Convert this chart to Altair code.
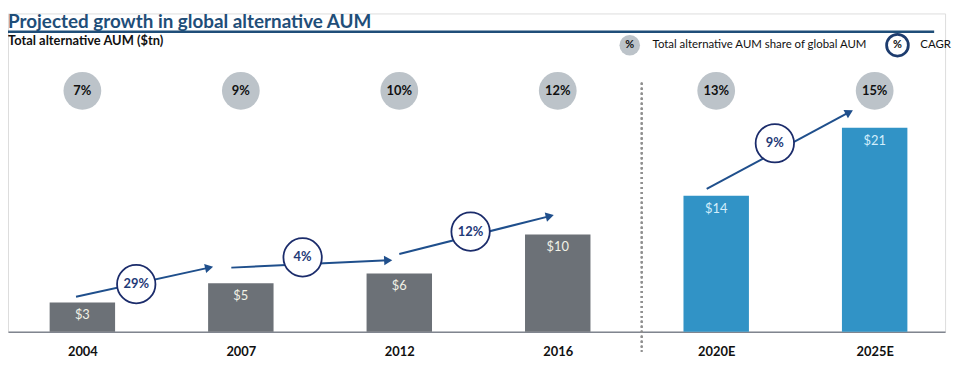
import math
import altair as alt
import pandas as pd

# ---------------- data ----------------
years = ["2004", "2007", "2012", "2016", "2020E", "2025E"]
aum_tn = [3, 5, 6, 10, 14, 21]
share_pct = [7, 9, 10, 12, 13, 15]
phase = ["Historical", "Historical", "Historical", "Historical", "Projected", "Projected"]
cagr_pct = [29, 4, 12, 9]

# ---------------- layout (positions in axis units: bar index, $tn) ----------------
arrow_x1 = [-0.04, 0.94, 2.00, 3.94]
arrow_y1 = [3.6, 6.6, 8.0, 14.7]
arrow_x2 = [0.80, 1.93, 2.95, 4.84]
arrow_y2 = [6.6, 7.35, 11.9, 22.6]
cagr_cx = [0.34, 1.39, 2.45, 4.37]
cagr_cy = [4.9, 7.65, 10.3, 19.4]

W, H = 945, 321
STEP = 159.8          # px per bar index
PXU = 9.8             # px per $tn
XMIN = -75 / STEP
XMAX = XMIN + W / STEP
YMAX = H / PXU

FONT = "Lato"
GREY_BAR = "#6c7177"
BLUE_BAR = "#3193c6"
NAVY = "#1b2c6b"
ARROW = "#1f4f8c"
TITLE_BLUE = "#1f4e79"

xs = alt.Scale(domain=[XMIN, XMAX], nice=False, zero=False, padding=0)
ys = alt.Scale(domain=[0, YMAX], nice=False, zero=False, padding=0)

label_expr = "[" + ",".join("'%s'" % y for y in years) + "][datum.value]"

bars_df = pd.DataFrame({
    "idx": list(range(len(years))),
    "year": years,
    "aum": aum_tn,
    "share": share_pct,
    "phase": phase,
    "aum_label": ["$%d" % v for v in aum_tn],
    "share_label": ["%d%%" % v for v in share_pct],
    "lab_color": ["#f2f2e6" if p == "Historical" else "#d3eefc" for p in phase],
})

x_enc = alt.X("idx:Q", scale=xs, axis=alt.Axis(
    values=list(range(len(years))), labelExpr=label_expr, ticks=False, grid=False,
    domainColor="#80858f", domainWidth=1.5, labelFont=FONT, labelFontWeight="bold",
    labelFontSize=13, labelColor="#111111", labelPadding=14, title=None))

bars = alt.Chart(bars_df).mark_bar(width=66).encode(
    x=x_enc,
    y=alt.Y("aum:Q", scale=ys, axis=None),
    y2=alt.datum(0),
    color=alt.Color("phase:N", scale=alt.Scale(domain=["Historical", "Projected"],
                                               range=[GREY_BAR, BLUE_BAR]), legend=None),
)

bar_labels = alt.Chart(bars_df).mark_text(font=FONT, fontSize=13, dy=13, baseline="middle").encode(
    x=alt.X("idx:Q", scale=xs),
    y=alt.Y("aum:Q", scale=ys),
    text="aum_label:N",
    color=alt.Color("lab_color:N", scale=None),
)

share_circles = alt.Chart(bars_df).mark_circle(size=1450, color="#bcc3c9", opacity=1).encode(
    x=alt.X("idx:Q", scale=xs), y=alt.value(78))
share_text = alt.Chart(bars_df).mark_text(font=FONT, fontSize=13, fontWeight="bold",
                                          color="#111111", baseline="middle").encode(
    x=alt.X("idx:Q", scale=xs), y=alt.value(78), text="share_label:N")

# arrows
ang = []
for a, b, c, d in zip(arrow_x1, arrow_y1, arrow_x2, arrow_y2):
    dxp = (c - a) * STEP
    dyp = -(d - b) * PXU
    ang.append(math.degrees(math.atan2(dyp, dxp)) % 360)
arrows_df = pd.DataFrame({"x1": arrow_x1, "y1": arrow_y1, "x2": arrow_x2, "y2": arrow_y2,
                          "angle": ang})
arrow_lines = alt.Chart(arrows_df).mark_rule(color=ARROW, strokeWidth=2).encode(
    x=alt.X("x1:Q", scale=xs), y=alt.Y("y1:Q", scale=ys), x2="x2:Q", y2="y2:Q")
arrow_heads = alt.Chart(arrows_df).mark_point(shape="triangle-right", filled=True, size=90,
                                              color=ARROW, opacity=1).encode(
    x=alt.X("x2:Q", scale=xs), y=alt.Y("y2:Q", scale=ys),
    angle=alt.Angle("angle:Q", scale=None))

cagr_df = pd.DataFrame({"cx": cagr_cx, "cy": cagr_cy,
                        "label": ["%d%%" % v for v in cagr_pct]})
cagr_circles = alt.Chart(cagr_df).mark_point(shape="circle", size=1500, filled=False,
                                             fill="white", fillOpacity=1, stroke=NAVY,
                                             strokeWidth=1.8, opacity=1).encode(
    x=alt.X("cx:Q", scale=xs), y=alt.Y("cy:Q", scale=ys))
cagr_text = alt.Chart(cagr_df).mark_text(font=FONT, fontSize=13, fontWeight="bold",
                                         color="#1f3a78", baseline="middle").encode(
    x=alt.X("cx:Q", scale=xs), y=alt.Y("cy:Q", scale=ys), text="label:N")

# divider between actuals and projections
divider = alt.Chart(bars_df).mark_rule(color="#8f8f8f", strokeWidth=1.6, strokeDash=[2, 3]).encode(
    x=alt.value(639), y=alt.value(70), y2=alt.value(341))

# header: title, rule, subtitle, legend
one = pd.DataFrame({"k": [0]})
title = alt.Chart(one).mark_text(text="Projected growth in global alternative AUM",
                                 font=FONT, fontSize=19, fontWeight="bold",
                                 color=TITLE_BLUE, align="left", baseline="alphabetic").encode(
    x=alt.value(0), y=alt.value(15))
title_rule = alt.Chart(one).mark_rule(color=TITLE_BLUE, strokeWidth=2.5).encode(
    x=alt.value(0), x2=alt.value(934), y=alt.value(18.5))
subtitle = alt.Chart(one).mark_text(text="Total alternative AUM ($tn)", font=FONT, fontSize=13,
                                    fontWeight="bold", color="#111111", align="left",
                                    baseline="alphabetic").encode(
    x=alt.value(0), y=alt.value(31.5))

LEG_Y = 32
leg_share_c = alt.Chart(one).mark_circle(size=430, color="#bcc3c9", opacity=1).encode(
    x=alt.value(627), y=alt.value(LEG_Y))
leg_share_p = alt.Chart(one).mark_text(text="%", font=FONT, fontSize=11, fontWeight="bold",
                                       color="#111111", baseline="middle").encode(
    x=alt.value(627), y=alt.value(LEG_Y))
leg_share_t = alt.Chart(one).mark_text(text="Total alternative AUM share of global AUM",
                                       font=FONT, fontSize=11.5, color="#111111", align="left",
                                       baseline="middle").encode(
    x=alt.value(650), y=alt.value(LEG_Y))
leg_cagr_c = alt.Chart(one).mark_point(shape="circle", size=480, filled=False, fill="white",
                                       fillOpacity=1, stroke="#1d3c6e", strokeWidth=2.8,
                                       opacity=1).encode(x=alt.value(897), y=alt.value(LEG_Y))
leg_cagr_p = alt.Chart(one).mark_text(text="%", font=FONT, fontSize=11, fontWeight="bold",
                                      color="#111111", baseline="middle").encode(
    x=alt.value(897), y=alt.value(LEG_Y))
leg_cagr_t = alt.Chart(one).mark_text(text="CAGR", font=FONT, fontSize=11.5, color="#111111",
                                      align="left", baseline="middle").encode(
    x=alt.value(920), y=alt.value(LEG_Y))

chart = alt.layer(
    divider, bars, bar_labels, share_circles, share_text,
    arrow_lines, arrow_heads, cagr_circles, cagr_text,
    title, title_rule, subtitle,
    leg_share_c, leg_share_p, leg_share_t, leg_cagr_c, leg_cagr_p, leg_cagr_t,
).properties(
    width=W, height=H,
    autosize=alt.AutoSizeParams(type="none"),
    padding={"left": 0, "top": 4, "right": 8, "bottom": 28},
).configure_view(stroke=None).configure(background="white")

chart.save("out.html", embed_options={"renderer": "svg", "actions": False})
